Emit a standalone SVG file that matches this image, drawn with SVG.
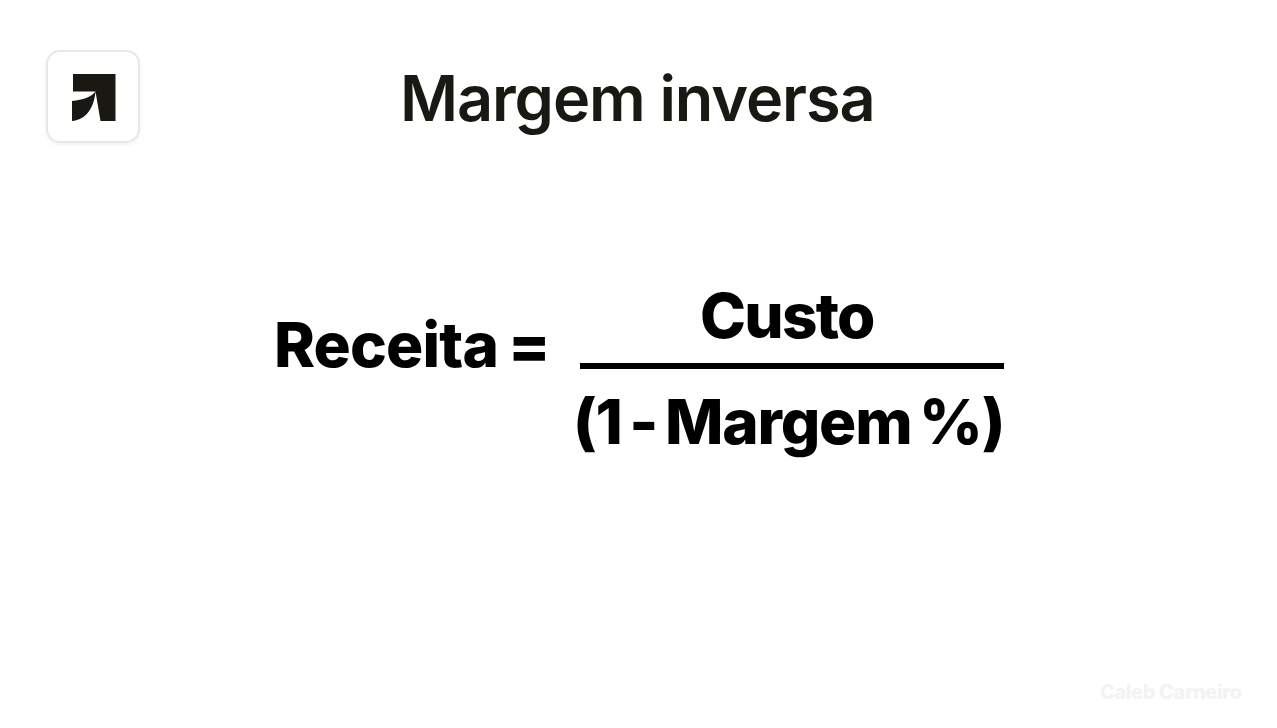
<svg xmlns="http://www.w3.org/2000/svg" width="1277" height="728" viewBox="0 0 1277 728">
<style>
text{font-family:"Inter","Liberation Sans",sans-serif;}
.f{font-weight:800;font-size:62px;fill:#000;letter-spacing:-1.2px}
</style>
<defs><filter id="s" x="-20%" y="-20%" width="140%" height="140%"><feDropShadow dx="0" dy="2" stdDeviation="1.5" flood-color="#000" flood-opacity="0.05"/></filter></defs>
<rect width="1277" height="728" fill="#fff"/>
<g id="logo">
<rect x="47" y="51" width="92" height="91" rx="13" fill="#fff" stroke="#e8e8e6" stroke-width="2" filter="url(#s)"/>
<path d="M73 74H115.5V121H100.5L95.5 91.5H73ZM95.5 91.5C91 97 83 100 72 101V121C86 120 94 108 95.5 91.5Z" fill="#1a1812"/>
</g>
<g id="title"><text x="400" y="121" font-size="63" font-weight="600" fill="#1a1812" letter-spacing="-1.1">Margem inversa</text></g>
<g id="formula">
<text class="f" x="274" y="367" word-spacing="-3" style="letter-spacing:-0.8px">Receita =</text>
<text class="f" x="700" y="338" style="letter-spacing:-1.8px">Custo</text>
<rect x="580" y="363" width="424" height="6" fill="#000"/>
<text class="f" x="573" y="444" word-spacing="-4.7">(1 - Margem %)</text>
</g>
<g id="credit"><text x="1100" y="699" font-size="20" font-weight="800" fill="#f3f3f3" letter-spacing="-0.4">Caleb Carneiro</text></g>
</svg>
